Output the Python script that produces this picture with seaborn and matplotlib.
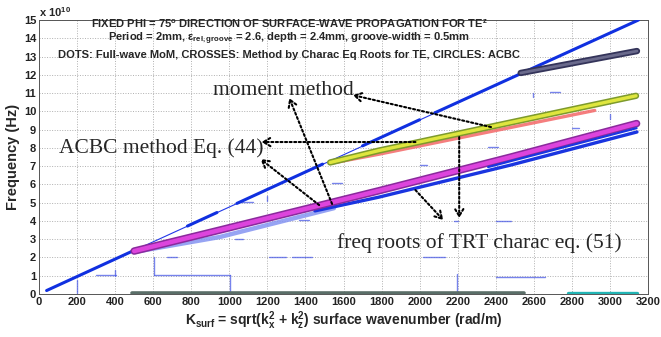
import numpy as np
import pandas as pd
import matplotlib
matplotlib.use("Agg")
import matplotlib.pyplot as plt
import seaborn as sns

# ---------------- data (frequency in units of 1e10 Hz, k in rad/m) ----------------
light_k = [40, 3150]
light_f = [0.19, 15.0]
# thick (dense MoM dot) portions of the light line: k0, f0, k1, f1
light_thick = [[40, 0.19, 500, 2.39], [780, 3.72, 935, 4.46], [1040, 4.96, 1490, 7.11],
               [1700, 8.11, 2000, 9.54], [2080, 9.92, 3150, 15.0]]

acbc_k = [500, 950, 1785, 2480, 3140]
acbc_f = [2.35, 3.5, 5.65, 7.5, 9.33]

trt_faint_k = [500, 950, 1550]
trt_faint_f = [2.3, 3.12, 4.7]
trt_k = [1450, 1785, 2479, 3142]
trt_f = [4.55, 5.3, 7.06, 8.87]
trt2_k = [2360, 3140]
trt2_f = [6.95, 9.08]

ylw_k = [1530, 1785, 3137]
ylw_f = [7.2, 7.85, 10.85]
red_k = [1530, 1785, 2920]
red_f = [7.15, 7.65, 10.05]
navy_k = [2531, 3142]
navy_f = [12.1, 13.3]

bottom_k = [490, 2550]
bottom_f = [0.05, 0.05]
teal_k = [2780, 3140]
teal_f = [0.04, 0.04]

# spurious short horizontal MoM dashes: k0, k1, f
h_dash = [[297, 402, 1.04], [605, 1002, 1.04], [673, 725, 2.0], [1211, 1300, 2.0],
          [1330, 1435, 2.0], [1030, 1070, 3.0], [1054, 1122, 5.03], [1540, 1592, 6.07],
          [1367, 1420, 4.05], [2004, 2040, 7.06], [2020, 2135, 2.03], [2400, 2480, 4.0],
          [2400, 2657, 0.93], [2683, 2740, 11.05], [2803, 2840, 9.1], [2360, 2410, 8.05],
          [2180, 2200, 4.0]]
# spurious short vertical dashes: k, f0, f1
v_dash = [[200, 0.05, 0.75], [605, 1.04, 2.0], [1002, 0.0, 1.04], [2197, 0.0, 1.1],
          [1200, 5.1, 5.35], [3000, 9.6, 9.85], [2594, 10.8, 11.0], [400, 1.0, 1.3]]

x_ticks = list(range(0, 3201, 200))
y_ticks = list(range(0, 16))

# annotation arrows: (tail k, tail f) -> (head k, head f)
arrows = [[2375, 9.14, 1649, 10.89], [1540, 4.93, 1315, 10.73], [1978, 8.32, 1169, 8.32],
          [1472, 4.87, 1164, 7.39], [2208, 8.59, 2208, 4.16], [1978, 5.69, 2124, 4.05]]

# ---------------- style ----------------
sns.set_style("white")
plt.rcParams['font.family'] = ['Liberation Sans', 'DejaVu Sans']
plt.rcParams['font.weight'] = 'bold'
plt.rcParams['mathtext.fontset'] = 'custom'
plt.rcParams['mathtext.rm'] = 'Liberation Sans:bold'
plt.rcParams['mathtext.it'] = 'Liberation Sans:bold'
plt.rcParams['mathtext.bf'] = 'Liberation Sans:bold'
plt.rcParams['mathtext.default'] = 'bf'

fig = plt.figure(figsize=(6.61, 3.37), dpi=100)
ax = fig.add_axes([39/661, 1-294/337, (648-39)/661, (294-20)/337])


def line(xs, ys, color, lw, alpha=1.0, z=2):
    sns.lineplot(x=xs, y=ys, ax=ax, color=color, lw=lw, alpha=alpha, sort=False,
                 estimator=None, zorder=z, legend=False, solid_capstyle='round')


# bottom lines
line(bottom_k, bottom_f, "#5a6e68", 2.6, z=3)
line(teal_k, teal_f, "#22b5b5", 2.4, z=3)

# spurious dashes
for k0, k1, f in h_dash:
    line([k0, k1], [f, f], "#4a5ae6", 1.0, alpha=0.75)
for k, f0, f1 in v_dash:
    line([k, k], [f0, f1], "#4a5ae6", 1.0, alpha=0.75)

# light line
line(light_k, light_f, "#2238e8", 0.8, z=4)
for k0, f0, k1, f1 in light_thick:
    line([k0, k1], [f0, f1], "#1030e0", 2.2, z=4)

# TRT roots (lower blue)
line(trt_faint_k, trt_faint_f, "#8594f2", 3.2, alpha=0.85, z=4)
line(trt_k, trt_f, "#1a35e0", 2.4, z=4)

# ACBC (magenta circles)
line(acbc_k, acbc_f, "#8a2a9c", 5.4, z=5)
line(acbc_k, acbc_f, "#dd44dd", 3.2, z=5)
line(trt2_k, trt2_f, "#1a35e0", 1.6, z=6)

# red + yellow band
line(red_k, red_f, "#f47070", 2.4, alpha=0.9, z=5)
line(ylw_k, ylw_f, "#7d9a2c", 4.6, z=6)
line(ylw_k, ylw_f, "#dfe63e", 2.4, z=6)

# navy circles band
line(navy_k, navy_f, "#34345a", 4.6, z=6)
line(navy_k, navy_f, "#6a6a8c", 2.0, z=6)

# ---------------- axes ----------------
ax.set_xlim(0, 3200)
ax.set_ylim(0, 15)
ax.set_xticks(x_ticks)
ax.set_yticks(y_ticks)
ax.set_xticklabels([str(v) for v in x_ticks], fontsize=8, fontweight='bold')
ax.set_yticklabels([str(v) for v in y_ticks], fontsize=8, fontweight='bold')
ax.tick_params(direction='in', length=3, width=0.6, pad=2, colors='#222222')
ax.grid(True, linestyle=(0, (1, 1.6)), color='#b0b0b0', lw=0.7)
ax.set_axisbelow(True)
for s in ax.spines.values():
    s.set_color('#555555')
    s.set_linewidth(0.7)

ax.set_xlabel(r"K$_{surf}$ = sqrt(k$_x^2$ + k$_z^2$) surface wavenumber (rad/m)",
              fontsize=10, fontweight='bold', labelpad=2)
ax.set_ylabel("Frequency (Hz)", fontsize=10.5, fontweight='bold', labelpad=3)
fig.text(39/661, 1-12/337, r"x 10$^{10}$", fontsize=8, fontweight='bold',
         va='center', ha='left')

# in-plot titles
fig.text(289/661, 1-24/337,
         r"FIXED PHI = 75$^{o}$ DIRECTION OF SURFACE-WAVE PROPAGATION FOR TE$^{z}$",
         fontsize=8.0, fontweight='bold', ha='center', va='center')
fig.text(289/661, 1-38.5/337,
         r"Period = 2mm, $\epsilon_{rel,groove}$ = 2.6, depth = 2.4mm, groove-width = 0.5mm",
         fontsize=8.0, fontweight='bold', ha='center', va='center')
fig.text(289/661, 1-55/337,
         "DOTS: Full-wave MoM, CROSSES: Method by Charac Eq Roots for TE, CIRCLES: ACBC",
         fontsize=8.0, fontweight='bold', ha='center', va='center')

# annotations
serif = dict(family='Liberation Serif', fontsize=15.5, fontweight='normal')
ax.text(913, 11.16, "moment method", ha='left', va='center', zorder=8, **serif)
ax.text(104, 8.0, "ACBC method Eq. (44)", ha='left', va='center', zorder=8, **serif)
ax.text(1566, 2.79, "freq roots of TRT charac eq. (51)", ha='left', va='center', zorder=8, **serif)

for k0, f0, k1, f1 in arrows:
    ax.annotate("", xy=(k1, f1), xytext=(k0, f0),
                arrowprops=dict(arrowstyle='->,head_length=0.5,head_width=0.3',
                                linestyle=(0, (1, 1.2)), lw=1.5, color='black',
                                shrinkA=0, shrinkB=0), zorder=9)

fig.savefig("out.png", dpi=100)
